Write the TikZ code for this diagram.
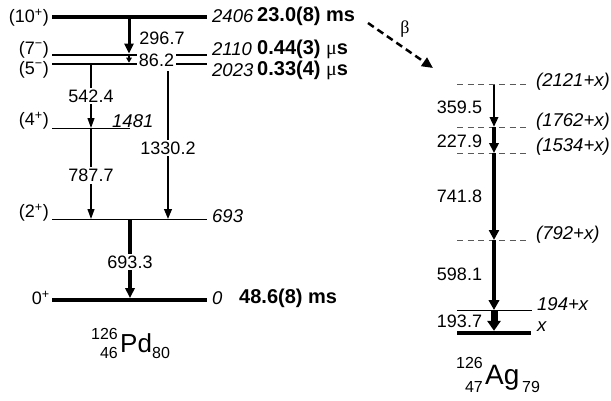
\documentclass[tikz,border=0pt]{standalone}
\usepackage{fontspec}
\setmainfont{Liberation Sans}
\newfontfamily\symb{Liberation Serif}
\usetikzlibrary{arrows.meta}

\tikzset{
  lvl/.style={line width=#1},
  lvl/.default=1pt,
  tentative/.style={dash pattern=on 6pt off 4.5pt,line width=.8pt,black!65},
  gline/.style={line width=#1,-{Triangle[length=10pt,width=5.5pt 1.1]}},
  elabel/.style={fill=white,inner sep=2pt},
  spin/.style={anchor=east,inner sep=0pt},
  energy/.style={anchor=west,inner sep=0pt,font=\fontsize{18.5}{21}\selectfont\itshape},
  halflife/.style={anchor=west,inner sep=0pt,font=\fontsize{20}{23}\selectfont\bfseries},
  decay/.style={line width=2.5pt,dash pattern=on 7pt off 4.5pt,-{Triangle[length=11pt,width=10pt]}},
}

\begin{document}
\begin{tikzpicture}[x=1pt,y=-1pt,font=\fontsize{18}{21}\selectfont]
\useasboundingbox (0,0) rectangle (611,400);

% 126Pd levels
\coordinate (p10) at (52,17);
\coordinate (p7) at (52,55);
\coordinate (p5) at (52,64);
\coordinate (p4) at (52,128);
\coordinate (p2) at (52,219);
\coordinate (p0) at (52,300);
\draw[lvl=4pt] (p10) -- ++(155,0);
\draw[lvl=2.6pt] (p7) -- ++(155,0);
\draw[lvl=2.6pt] (p5) -- ++(155,0);
\draw[lvl] (p4) -- ++(78,0);
\draw[lvl] (p2) -- ++(155,0);
\draw[lvl=4pt] (p0) -- ++(155,0);

\node[spin] (s10) at (49,18) {(10\textsuperscript{+})};
\node[spin] (s7) at (49,49.5) {(7\textsuperscript{−})};
\node[spin] (s5) at (49,69.5) {(5\textsuperscript{−})};
\node[spin] (s4) at (49,121) {(4\textsuperscript{+})};
\node[spin] (s2) at (49,213) {(2\textsuperscript{+})};
\node[spin] (s0) at (50,298) {0\textsuperscript{+}};

\node[energy] (e10) at (212,16) {2406};
\node[energy] (e7) at (212,49) {2110};
\node[energy] (e5) at (212,70) {2023};
\node[energy] (e4) at (112,121) {1481};
\node[energy] (e2) at (212,216) {693};
\node[energy] (e0) at (212,298) {0};

\node[halflife] (t10) at (257,16) {23.0(8) ms};
\node[halflife] (t7) at (257,49) {0.44(3) {\mdseries\symb μ}s};
\node[halflife] (t5) at (257,70) {0.33(4) {\mdseries\symb μ}s};
\node[halflife] (t0) at (239,298) {48.6(8) ms};

% transitions in 126Pd
\coordinate (ca) at (91,0);
\coordinate (cb) at (129,0);
\coordinate (cc) at (168,0);
\coordinate (cd) at (130,0);
\draw[gline=3pt,shorten >=1.3pt] (cb |- p10) -- (cb |- p7);
\draw[line width=1.2pt,-{Triangle[length=5pt,width=5.5pt]},shorten >=1.3pt] (cb |- p7) -- (cb |- p5);
\draw[gline=1.3pt] (ca |- p5) -- (ca |- p4) node[elabel,pos=.5] {542.4};
\draw[gline=1.3pt] (ca |- p4) -- (ca |- p2) node[elabel,pos=.52] {787.7};
\draw[gline=2pt] ([yshift=-7pt]cc |- p5) -- (cc |- p2) node[elabel,pos=.52] {1330.2};
\draw[gline=3.5pt,shorten >=2pt] (cd |- p2) -- (cd |- p0) node[elabel,pos=.53] {693.3};
\node (g297) at (162,38.5) {296.7};
\node[elabel] (g86) at (156.5,60) {86.2};

% 126Pd name
\node[inner sep=0pt,anchor=base west,font=\fontsize{26}{30}\selectfont] (pd) at (120,352) {Pd};
\node[inner sep=0pt,anchor=base east,font=\fontsize{16}{18}\selectfont] (pda) at (118,339) {126};
\node[inner sep=0pt,anchor=base east,font=\fontsize{16}{18}\selectfont] (pdz) at (118,358) {46};
\node[inner sep=0pt,anchor=base west,font=\fontsize{16}{18}\selectfont] (pdn) at (152,358) {80};

% beta decay
\coordinate (b1) at (368,23);
\coordinate (b2) at (433,68);
\draw[decay] (b1) -- (b2);
\node (beta) at (405,29) {\symb β};

% 126Ag levels
\coordinate (a2121) at (457,84.5);
\coordinate (a1762) at (457,127);
\coordinate (a1534) at (457,153);
\coordinate (a792) at (457,240);
\coordinate (a194) at (457,310);
\coordinate (ax) at (457,333);
\draw[tentative] (a2121) -- ++(70,0);
\draw[tentative] (a1762) -- ++(70,0);
\draw[tentative] (a1534) -- ++(70,0);
\draw[tentative] (a792) -- ++(70,0);
\draw[lvl] (a194) -- ++(75,0);
\draw[lvl=4.5pt] (ax) -- ++(74,0);

\node[energy] (f2121) at (536,82) {(2121+x)};
\node[energy] (f1762) at (536,122) {(1762+x)};
\node[energy] (f1534) at (536,147) {(1534+x)};
\node[energy] (f792) at (536,235) {(792+x)};
\node[energy] (f194) at (537,304) {194+x};
\node[energy] (fx) at (537,327) {x};

% transitions in 126Ag
\coordinate (cx) at (494,0);
\draw[gline=2.5pt] (cx |- a2121) -- (cx |- a1762);
\draw[gline=3.5pt] (cx |- a1762) -- (cx |- a1534);
\draw[gline=4pt] (cx |- a1534) -- (cx |- a792);
\draw[gline=4.5pt] (cx |- a792) -- (cx |- a194);
\draw[gline=7pt,shorten >=2.2pt] (cx |- a194) -- (cx |- ax);
\node (g360) at (459.5,107) {359.5};
\node (g228) at (459.5,141) {227.9};
\node (g742) at (459.5,196) {741.8};
\node (g598) at (459.5,274) {598.1};
\node (g194) at (459.5,321) {193.7};

% 126Ag name
\node[inner sep=0pt,anchor=base west,font=\fontsize{28}{32}\selectfont] (ag) at (485,384) {Ag};
\node[inner sep=0pt,anchor=base east,font=\fontsize{16}{18}\selectfont] (aga) at (483,368) {126};
\node[inner sep=0pt,anchor=base east,font=\fontsize{16}{18}\selectfont] (agz) at (483,392) {47};
\node[inner sep=0pt,anchor=base west,font=\fontsize{16}{18}\selectfont] (agn) at (522,392) {79};
\end{tikzpicture}
\end{document}
